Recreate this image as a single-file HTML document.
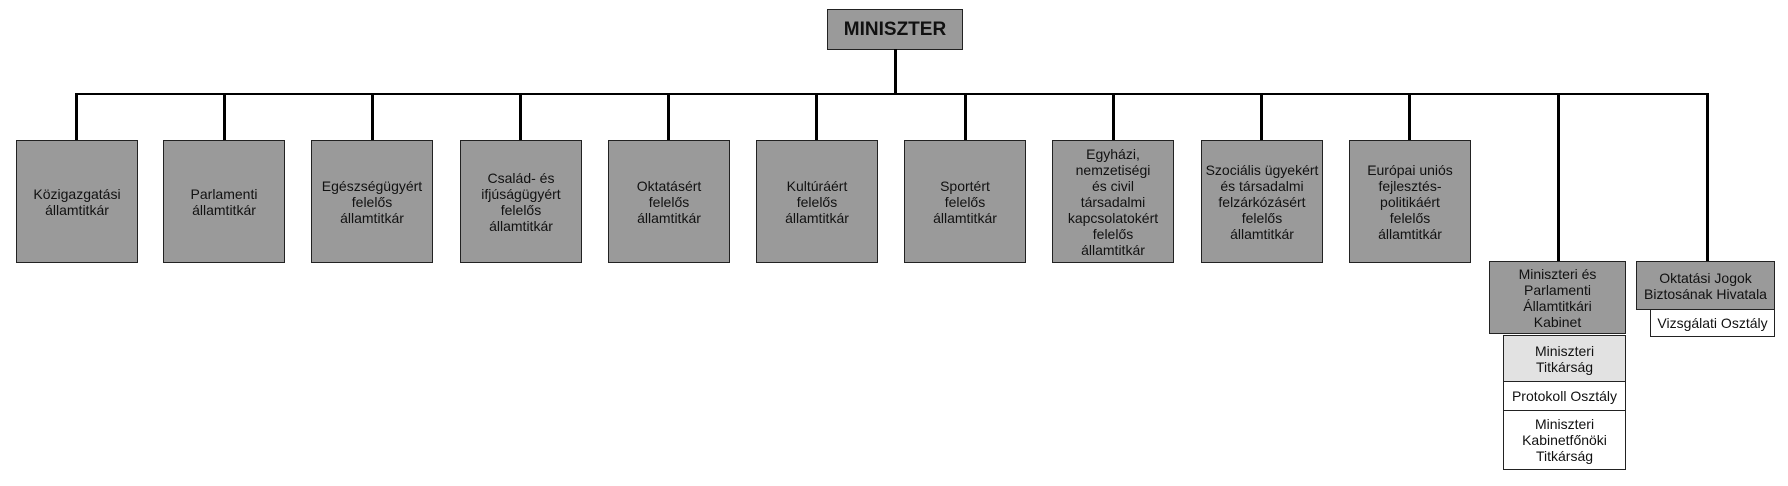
<!DOCTYPE html>
<html><head><meta charset="utf-8"><style>
body{margin:0;width:1788px;height:486px;background:#fff;position:relative;overflow:hidden;font-family:"Liberation Sans Narrow","Liberation Sans",sans-serif;}
.b{position:absolute;box-sizing:border-box;border:1px solid #222;background:#9a9a9a;display:flex;align-items:center;justify-content:center;text-align:center;font-size:14px;line-height:16px;color:#111;}
.w{background:#fff}.l{background:#e2e2e2}
.v{position:absolute;width:3px;background:#000}
.h{position:absolute;height:2px;background:#000}
</style></head><body>
<div class="b" style="left:827px;top:9px;width:136px;height:41px;font-weight:bold;font-size:19px;">MINISZTER</div>
<div class="v" style="left:894px;top:49px;height:46px"></div>
<div class="h" style="left:75px;top:93px;width:1634px"></div>
<div class="v" style="left:75px;top:93px;height:47px"></div>
<div class="v" style="left:223px;top:93px;height:47px"></div>
<div class="v" style="left:371px;top:93px;height:47px"></div>
<div class="v" style="left:519px;top:93px;height:47px"></div>
<div class="v" style="left:667px;top:93px;height:47px"></div>
<div class="v" style="left:815px;top:93px;height:47px"></div>
<div class="v" style="left:964px;top:93px;height:47px"></div>
<div class="v" style="left:1112px;top:93px;height:47px"></div>
<div class="v" style="left:1260px;top:93px;height:47px"></div>
<div class="v" style="left:1408px;top:93px;height:47px"></div>
<div class="v" style="left:1557px;top:93px;height:169px"></div>
<div class="v" style="left:1706px;top:93px;height:169px"></div>
<div class="b" style="left:16px;top:140px;width:122px;height:123px">Közigazgatási<br>államtitkár</div>
<div class="b" style="left:163px;top:140px;width:122px;height:123px">Parlamenti<br>államtitkár</div>
<div class="b" style="left:311px;top:140px;width:122px;height:123px">Egészségügyért<br>felelős<br>államtitkár</div>
<div class="b" style="left:460px;top:140px;width:122px;height:123px">Család- és<br>ifjúságügyért<br>felelős<br>államtitkár</div>
<div class="b" style="left:608px;top:140px;width:122px;height:123px">Oktatásért<br>felelős<br>államtitkár</div>
<div class="b" style="left:756px;top:140px;width:122px;height:123px">Kultúráért<br>felelős<br>államtitkár</div>
<div class="b" style="left:904px;top:140px;width:122px;height:123px">Sportért<br>felelős<br>államtitkár</div>
<div class="b" style="left:1052px;top:140px;width:122px;height:123px">Egyházi,<br>nemzetiségi<br>és civil<br>társadalmi<br>kapcsolatokért<br>felelős<br>államtitkár</div>
<div class="b" style="left:1201px;top:140px;width:122px;height:123px">Szociális ügyekért<br>és társadalmi<br>felzárkózásért<br>felelős<br>államtitkár</div>
<div class="b" style="left:1349px;top:140px;width:122px;height:123px">Európai uniós<br>fejlesztés-<br>politikáért<br>felelős<br>államtitkár</div>
<div class="b" style="left:1489px;top:261px;width:137px;height:73px">Miniszteri és<br>Parlamenti<br>Államtitkári<br>Kabinet</div>
<div class="b l" style="left:1503px;top:335px;width:123px;height:47px">Miniszteri<br>Titkárság</div>
<div class="b w" style="left:1503px;top:381px;width:123px;height:30px">Protokoll Osztály</div>
<div class="b w" style="left:1503px;top:410px;width:123px;height:60px">Miniszteri<br>Kabinetfőnöki<br>Titkárság</div>
<div class="b" style="left:1636px;top:261px;width:139px;height:49px">Oktatási Jogok<br>Biztosának Hivatala</div>
<div class="b w" style="left:1650px;top:309px;width:125px;height:28px">Vizsgálati Osztály</div>
</body></html>
